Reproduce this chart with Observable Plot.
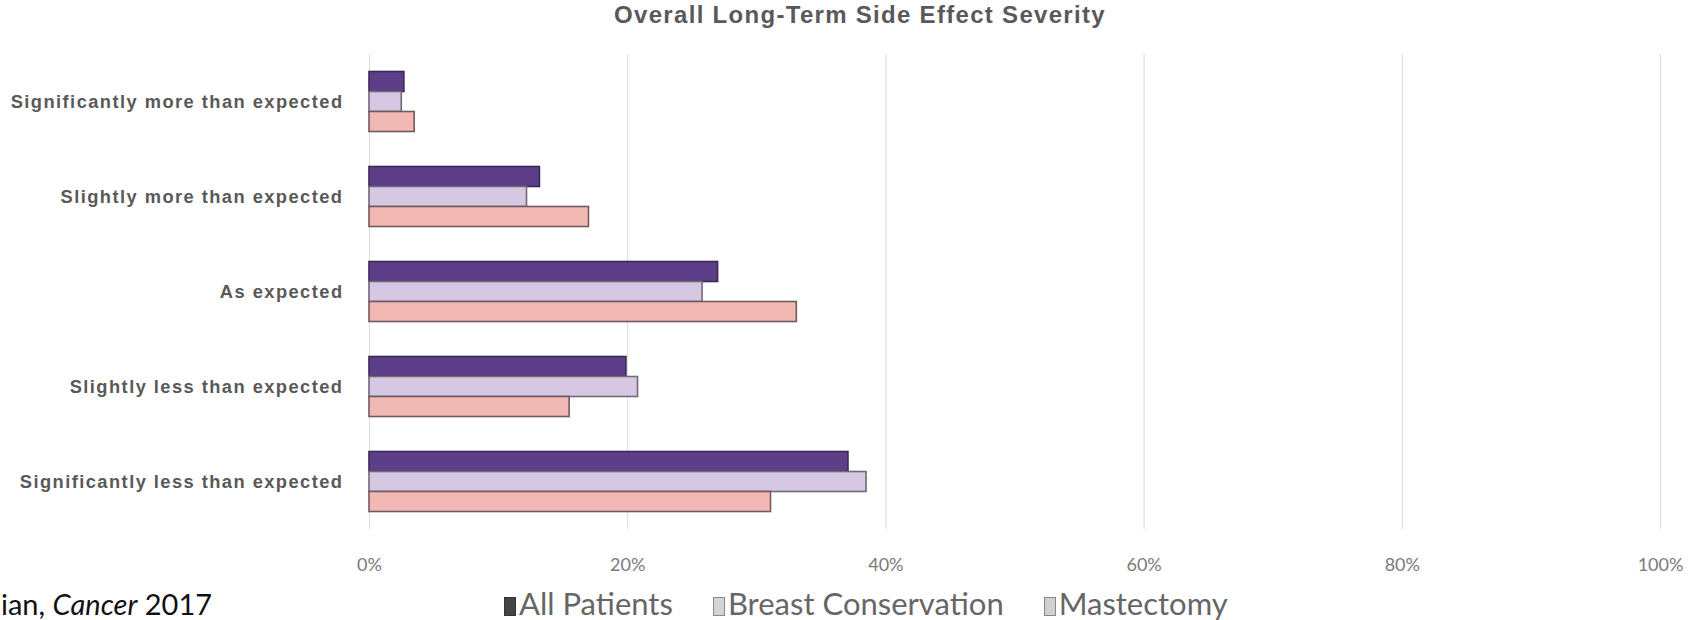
<!DOCTYPE html>
<html>
<head>
<meta charset="utf-8">
<script src="https://cdn.jsdelivr.net/npm/d3@7"></script>
<script src="https://cdn.jsdelivr.net/npm/@observablehq/plot@0.6"></script>
<style>
  html, body { margin: 0; padding: 0; background: #fff; }
  body { width: 1701px; height: 620px; overflow: hidden; position: relative; }
  #title {
    position: absolute; left: 0; top: 1px; width: 1720px; height: 40px; line-height: 40px;
    text-align: center; font: bold 24px "Liberation Sans", Arial, sans-serif;
    letter-spacing: 1.3px; color: #595959; white-space: nowrap;
  }
  #chart { position: absolute; left: 0; top: 40px; }
  #chart g[aria-label="fy-axis tick label"] text { letter-spacing: 1.45px; }
  #legend {
    position: absolute; left: 504px; top: 584px; height: 36px; line-height: 36px;
    font: 31px Lato, "Open Sans", sans-serif; color: #666; white-space: nowrap;
  }
  #legend .item { display: inline-block; margin-right: 40px; }
  #legend .sw {
    display: inline-block; width: 12px; height: 19px; margin-right: 3px;
    box-sizing: border-box; vertical-align: -1px;
  }
  #caption {
    position: absolute; left: 1px; top: 586px; line-height: 36px;
    font: 29px Lato, "Open Sans", sans-serif; color: #111; white-space: nowrap;
  }
</style>
</head>
<body>
<div id="title">Overall Long-Term Side Effect Severity</div>
<div id="chart"></div>
<div id="legend"></div>
<div id="caption">ian, <i>Cancer</i> 2017</div>
<script>
// Response categories, top to bottom
const categories = [
  "Significantly more than expected",
  "Slightly more than expected",
  "As expected",
  "Slightly less than expected",
  "Significantly less than expected"
];
// Patient groups
const series = ["All Patients", "Breast Conservation", "Mastectomy"];
// Share of respondents per category
const allPatients        = [0.027, 0.132, 0.270, 0.199, 0.371];
const breastConservation = [0.025, 0.122, 0.258, 0.208, 0.385];
const mastectomy         = [0.035, 0.170, 0.331, 0.155, 0.311];
// Axis ticks
const xTicks = [0, 0.2, 0.4, 0.6, 0.8, 1];

const fills   = ["#5c3f88", "#d6c8e3", "#f2b8b4"];
const strokes = ["#3b2856", "#726878", "#6e5a5f"];
const legendFills   = ["#444", "#d4d4d4", "#d0d0d0"];
const legendStrokes = ["#333", "#888", "#888"];

const values = [allPatients, breastConservation, mastectomy];
const rows = categories.flatMap((c, i) =>
  series.map((s, j) => ({category: c, series: s, value: values[j][i]}))
);

const chart = Plot.plot({
  width: 1701,
  height: 545,
  marginLeft: 369,
  marginRight: 41,
  marginTop: 13.5,
  marginBottom: 55.5,
  style: {background: "transparent", overflow: "visible"},
  x: {domain: [0, 1], label: null},
  fy: {domain: categories, padding: 0, label: null},
  y: {domain: series, paddingInner: 0, paddingOuter: 0.875, axis: null},
  marks: [
    Plot.gridX(xTicks, {stroke: "#dcdcdc", strokeOpacity: 1, strokeWidth: 1}),
    ...series.map((s, j) =>
      Plot.barX(rows.filter(d => d.series === s), {
        x: "value", y: "series", fy: "category",
        fill: fills[j], stroke: strokes[j], strokeWidth: 1.6
      })
    ),
    Plot.axisX(xTicks, {
      tickFormat: d3.format(".0%"), tickSize: 0, tickPadding: 29, label: null,
      fontSize: 18, fontFamily: "Lato, sans-serif", fill: "#7a7a7a"
    }),
    Plot.axisFy({
      anchor: "left", tickSize: 0, tickPadding: 26, fontSize: 18.3, fontWeight: "bold",
      fontFamily: "'Liberation Sans', Arial, sans-serif", fill: "#595959", label: null
    })
  ]
});
document.getElementById("chart").append(chart);

// Legend row
const legend = document.getElementById("legend");
series.forEach((s, j) => {
  const item = document.createElement("span");
  item.className = "item";
  const sw = document.createElement("span");
  sw.className = "sw";
  sw.style.background = legendFills[j];
  sw.style.border = `1.5px solid ${legendStrokes[j]}`;
  item.append(sw, document.createTextNode(s));
  legend.append(item);
});
</script>
</body>
</html>
